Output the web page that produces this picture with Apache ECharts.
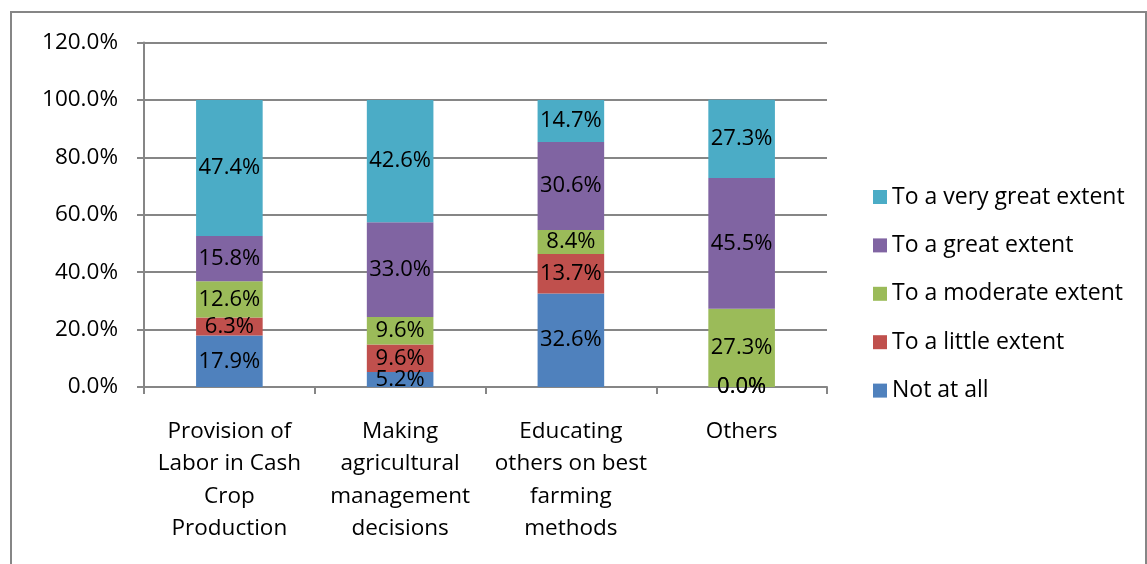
<!DOCTYPE html>
<html>
<head>
<meta charset="utf-8">
<script src="https://cdn.jsdelivr.net/npm/echarts@6/dist/echarts.min.js"></script>
<style>
html,body{margin:0;padding:0;background:#fff;}
#c{width:1147px;height:564px;}
</style>
</head>
<body>
<div id="c"></div>
<script>
const categories = [
  "Provision of\nLabor in Cash\nCrop\nProduction",
  "Making\nagricultural\nmanagement\ndecisions",
  "Educating\nothers on best\nfarming\nmethods",
  "Others"
];
const notAtAll      = [17.9, 5.2, 32.6, 0.0];
const littleExtent  = [6.3, 9.6, 13.7, 0.0];
const moderateExt   = [12.6, 9.6, 8.4, 27.3];
const greatExtent   = [15.8, 33.0, 30.6, 45.5];
const veryGreatExt  = [47.4, 42.6, 14.7, 27.3];
const seriesNames = ["Not at all", "To a little extent", "To a moderate extent", "To a great extent", "To a very great extent"];
const seriesData = [notAtAll, littleExtent, moderateExt, greatExtent, veryGreatExt];
const colors = ["#4F81BD", "#C0504D", "#9BBB59", "#8064A2", "#4BACC6"];

const FONT = "Open Sans";
const chart = echarts.init(document.getElementById('c'), null, {renderer: 'canvas'});
const series = seriesNames.map((n, i) => ({
  name: n,
  type: 'bar',
  stack: 'total',
  barWidth: '39%',
  data: seriesData[i],
  itemStyle: {color: colors[i]},
  label: {
    show: true,
    position: 'inside',
    color: '#000',
    fontFamily: FONT,
    fontSize: 22,
    formatter: p => p.value.toFixed(1) + '%'
  }
}));

chart.setOption({
  animation: false,
  color: colors,
  graphic: [{
    type: 'rect',
    shape: {x: 11, y: 12, width: 1135, height: 600},
    style: {fill: 'none', stroke: '#868686', lineWidth: 2},
    silent: true
  }],
  grid: {left: 144, right: 320, top: 42.5, bottom: 177},
  legend: {
    orient: 'vertical',
    left: 868,
    top: 180,
    itemWidth: 14,
    itemHeight: 14,
    itemGap: 24.4,
    icon: 'rect',
    data: seriesNames.slice().reverse(),
    textStyle: {fontFamily: FONT, fontSize: 23, color: '#000', lineHeight: 24, padding: [0, 0, 0, 0]}
  },
  xAxis: {
    type: 'category',
    data: categories,
    axisLine: {lineStyle: {color: '#868686', width: 2}},
    axisTick: {show: true, length: 7, alignWithLabel: false, lineStyle: {color: '#868686', width: 2}},
    axisLabel: {
      interval: 0,
      margin: 28,
      color: '#000',
      fontFamily: FONT,
      fontSize: 22.5,
      lineHeight: 32.5,
      align: 'center'
    }
  },
  yAxis: {
    type: 'value',
    min: 0,
    max: 120,
    interval: 20,
    axisLine: {show: true, lineStyle: {color: '#868686', width: 2}},
    axisTick: {show: true, length: 7, lineStyle: {color: '#868686', width: 2}},
    splitLine: {show: true, lineStyle: {color: '#868686', width: 2}},
    axisLabel: {
      margin: 26,
      color: '#000',
      fontFamily: FONT,
      fontSize: 22.5,
      formatter: v => v.toFixed(1) + '%'
    }
  },
  series: series
});
</script>
</body>
</html>
